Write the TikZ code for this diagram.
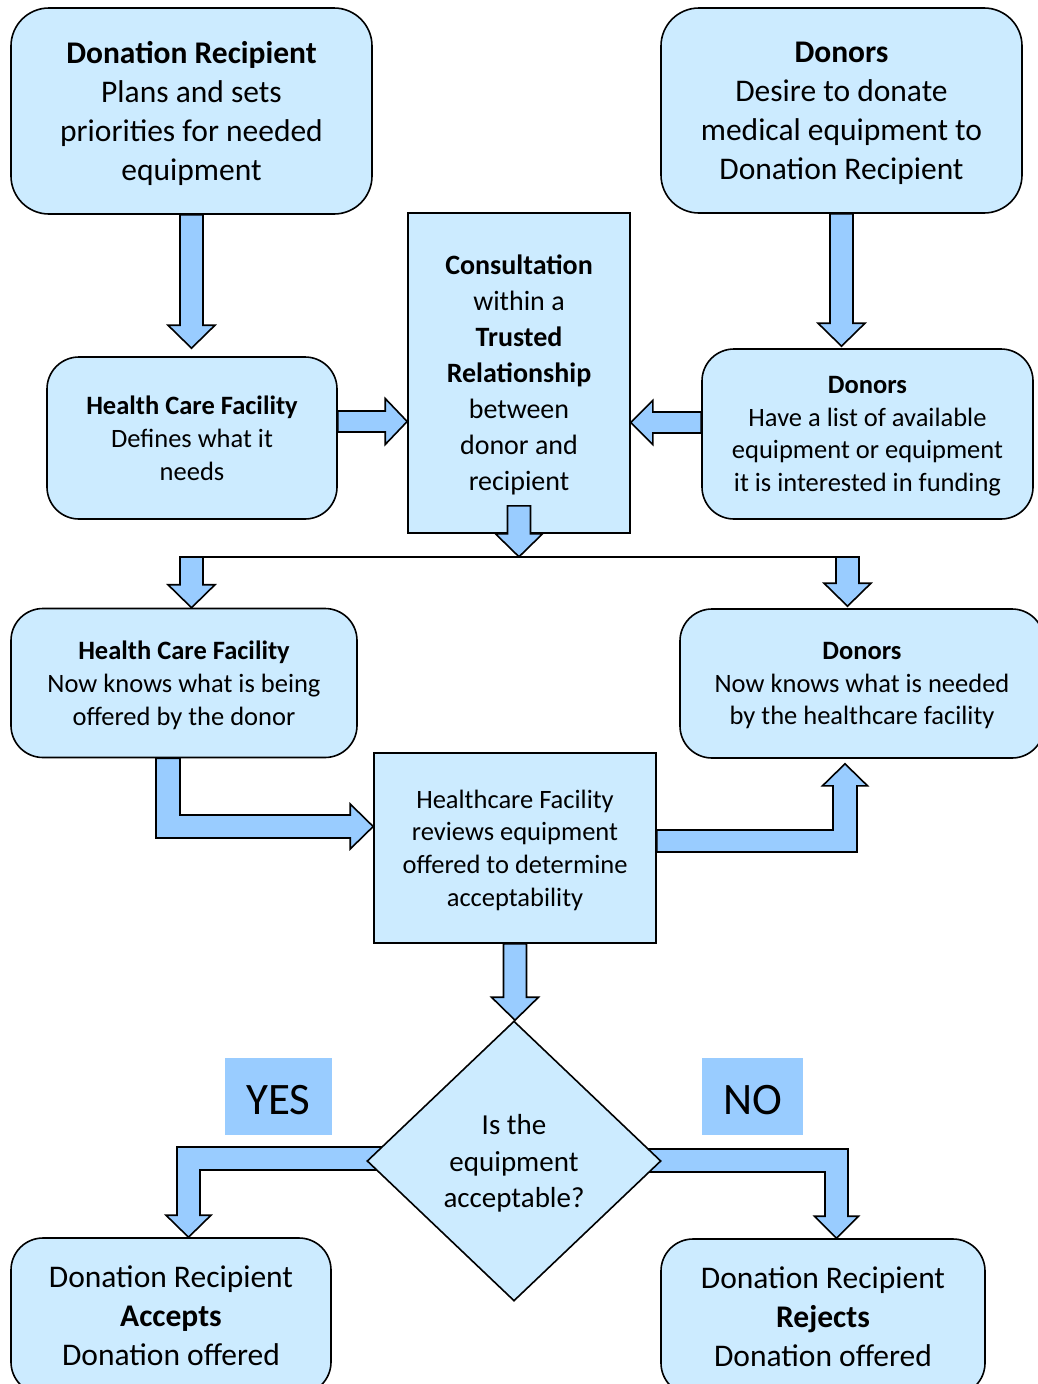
\documentclass[tikz,border=0pt]{standalone}
\usepackage{fontspec}
\setmainfont{Carlito}
\usetikzlibrary{shapes.geometric, calc, backgrounds}
\definecolor{boxblue}{RGB}{204,235,255}
\definecolor{arrowblue}{RGB}{153,204,255}
\tikzset{
x=1pt, y=-1pt, % one unit is one pixel of the layout, y runs downwards
every node/.style={align=center, inner sep=0pt, text=black},
rbox/.style={draw, fill=boxblue, line width=1.6pt, rounded corners=32pt, text depth=0pt}, % rounded boxes
sbox/.style={draw, fill=boxblue, line width=1.6pt, text depth=0pt}, % square boxes
tag/.style={fill=arrowblue, text height=37pt, font=\fontsize{45}{50}\selectfont}, % YES / NO labels
txtL/.style={font=\fontsize{31.5}{39}\selectfont},
txtM/.style={font=\fontsize{28}{36}\selectfont},
txtS/.style={font=\fontsize{26.5}{32.8}\selectfont},
blockarrow/.style={draw, fill=arrowblue, line width=1.6pt, line join=miter},
% block arrows: shaft half width 11.5, head half width 23.5, head length 23
vdown/.style={blockarrow, to path={let \p1=(\tikztostart), \p2=(\tikztotarget) in
  (\x1-11.5pt,\y1) -- (\x1-11.5pt,\y2+23pt) -- (\x1-23.5pt,\y2+23pt) -- (\x1,\y2)
  -- (\x1+23.5pt,\y2+23pt) -- (\x1+11.5pt,\y2+23pt) -- (\x1+11.5pt,\y1) -- cycle}},
hright/.style={blockarrow, to path={let \p1=(\tikztostart), \p2=(\tikztotarget) in
  (\x1,\y1+10.5pt) -- (\x2-22pt,\y1+10.5pt) -- (\x2-22pt,\y1+23pt) -- (\x2,\y1)
  -- (\x2-22pt,\y1-23pt) -- (\x2-22pt,\y1-10.5pt) -- (\x1,\y1-10.5pt) -- cycle}},
hleft/.style={blockarrow, to path={let \p1=(\tikztostart), \p2=(\tikztotarget) in
  (\x1,\y1+10.5pt) -- (\x2+22pt,\y1+10.5pt) -- (\x2+22pt,\y1+22pt) -- (\x2,\y1)
  -- (\x2+22pt,\y1-22pt) -- (\x2+22pt,\y1-10.5pt) -- (\x1,\y1-10.5pt) -- cycle}},
downright/.style={blockarrow, to path={let \p1=(\tikztostart), \p2=(\tikztotarget) in
  (\x1-12pt,\y1) -- (\x1-12pt,\y2-11.5pt) -- (\x2-23pt,\y2-11.5pt) -- (\x2-23pt,\y2-22.5pt)
  -- (\x2,\y2) -- (\x2-23pt,\y2+22.5pt) -- (\x2-23pt,\y2+11.5pt) -- (\x1+12pt,\y2+11.5pt)
  -- (\x1+12pt,\y1) -- cycle}},
rightup/.style={blockarrow, to path={let \p1=(\tikztostart), \p2=(\tikztotarget) in
  (\x1,\y1+11pt) -- (\x2-12pt,\y1+11pt) -- (\x2-12pt,\y2-22pt) -- (\x2-22.5pt,\y2-22pt)
  -- (\x2,\y2) -- (\x2+22.5pt,\y2-22pt) -- (\x2+12pt,\y2-22pt) -- (\x2+12pt,\y1-11pt)
  -- (\x1,\y1-11pt) -- cycle}},
leftdown/.style={blockarrow, to path={let \p1=(\tikztostart), \p2=(\tikztotarget) in
  (\x1,\y1+11.5pt) -- (\x2-11.5pt,\y1+11.5pt) -- (\x2-11.5pt,\y2+22pt) -- (\x2-22.5pt,\y2+22pt)
  -- (\x2,\y2) -- (\x2+22.5pt,\y2+22pt) -- (\x2+11.5pt,\y2+22pt) -- (\x2+11.5pt,\y1-11.5pt)
  -- (\x1,\y1-11.5pt) -- cycle}},
rightdown/.style={blockarrow, to path={let \p1=(\tikztostart), \p2=(\tikztotarget) in
  (\x1,\y1+11.5pt) -- (\x2+11.5pt,\y1+11.5pt) -- (\x2+11.5pt,\y2+22pt) -- (\x2+22pt,\y2+22pt)
  -- (\x2,\y2) -- (\x2-22pt,\y2+22pt) -- (\x2-11.5pt,\y2+22pt) -- (\x2-11.5pt,\y1-11.5pt)
  -- (\x1,\y1-11.5pt) -- cycle}},
bus/.style={draw, line width=1.6pt}, % line feeding the two lower arrows
}
\begin{document}
\begin{tikzpicture}
    \useasboundingbox (0,0) rectangle (1037,1384);
    % top row
    \node[rbox, txtL, rounded corners=38pt, minimum width=361pt, minimum height=206pt] (dr) at (191.5,111)
        {\textbf{Donation Recipient}\\Plans and sets\\priorities for needed\\equipment};
    \node[rbox, txtL, rounded corners=38pt, text depth=-3pt, minimum width=361pt, minimum height=205pt] (dn) at (841.5,110.5)
        {\textbf{Donors}\\Desire to donate\\medical equipment to\\Donation Recipient};
    % middle row
    \node[sbox, txtM, minimum width=222pt, minimum height=320pt] (cons) at (519,373)
        {\textbf{Consultation}\\within a\\\textbf{Trusted}\\\textbf{Relationship}\\between\\donor and\\recipient};
    \node[rbox, txtS, text depth=-4pt, minimum width=290pt, minimum height=162pt] (hcfd) at (192,438)
        {\textbf{Health Care Facility}\\Defines what it\\needs};
    \node[rbox, txtS, minimum width=331pt, minimum height=170pt] (dl) at (867.5,434)
        {\textbf{Donors}\\Have a list of available\\equipment or equipment\\it is interested in funding};
    \node[rbox, txtS, minimum width=346pt, minimum height=149pt] (hcfk) at (184,683)
        {\textbf{Health Care Facility}\\Now knows what is being\\offered by the donor};
    \node[rbox, txtS, minimum width=364pt, minimum height=149pt] (donk) at (862,683.5)
        {\textbf{Donors}\\Now knows what is needed\\by the healthcare facility};
    \node[sbox, txtS, minimum width=282pt, minimum height=190pt] (rev) at (515,848)
        {Healthcare Facility\\reviews equipment\\offered to determine\\acceptability};
    % decision
    \node[sbox, shape=diamond, font=\fontsize{29}{36.5}\selectfont, minimum width=294pt, minimum height=280pt] (dia) at (514,1161)
        {Is the\\equipment\\acceptable?};
    \node[tag, minimum width=107pt, minimum height=77pt] (yes) at (278.5,1096.5) {YES};
    \node[tag, minimum width=101pt, minimum height=77pt] (no) at (752.5,1096.5) {NO};
    \node[rbox, txtL, minimum width=320pt, minimum height=156pt] (acc) at (171,1316)
        {Donation Recipient\\\textbf{Accepts}\\Donation offered};
    \node[rbox, txtL, minimum width=324pt, minimum height=156pt] (rej) at (823,1317)
        {Donation Recipient\\\textbf{Rejects}\\Donation offered};
    % arrows
    \coordinate (split) at ([yshift=-23pt]cons.south);
    \coordinate (tapL) at (191.5,557);
    \coordinate (tapR) at (847.5,557);
    \draw
    (dr.south) edge[vdown] ([yshift=8pt]hcfd.north -| dr.south)
    (dn.south) edge[vdown] ([yshift=2pt]dl.north -| dn.south)
    ([yshift=16.5pt]hcfd.east) edge[hright] (cons.west)
    ([yshift=11.5pt]dl.west) edge[hleft] (cons.east)
    ([yshift=28pt]cons.south) edge[vdown] (split)
    (tapL) edge[vdown] (hcfk.north -| tapL)
    (tapR) edge[vdown] ([yshift=2pt]donk.north -| tapR)
    ([xshift=-16pt]hcfk.south) edge[downright] ([yshift=21.5pt]rev.west)
    ([yshift=7pt]rev.east) edge[rightup] ([xshift=-17pt,yshift=-5pt]donk.south)
    (rev.south) edge[vdown] ([xshift=-1pt]dia.north)
    ;
    \draw[bus] ([xshift=-11.5pt]tapL) -- ([xshift=10.5pt]tapR);
    \begin{scope}[on background layer]
    \draw
    ([yshift=2.5pt]dia.center) edge[leftdown] ([xshift=17.5pt]acc.north)
    ([yshift=0.5pt]dia.center) edge[rightdown] ([xshift=13.5pt]rej.north)
    ;
    \end{scope}
\end{tikzpicture}
\end{document}
